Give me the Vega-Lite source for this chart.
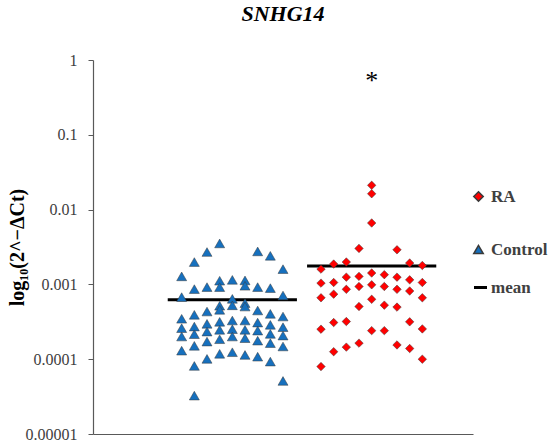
{
  "$schema": "https://vega.github.io/schema/vega-lite/v6.json",
  "width": 380,
  "height": 374,
  "autosize": {"type": "none"},
  "padding": {"left": 93, "top": 60, "right": 77, "bottom": 12},
  "title": {
    "text": "SNHG14",
    "font": "Liberation Serif",
    "fontSize": 22,
    "fontStyle": "italic",
    "fontWeight": "bold",
    "color": "black",
    "anchor": "middle",
    "frame": "group",
    "baseline": "alphabetic",
    "offset": 9
  },
  "datasets": {
    "points": [
      {"group": "Control", "pos": 7, "value": 0.00128},
      {"group": "Control", "pos": 7, "value": 0.000676},
      {"group": "Control", "pos": 7, "value": 0.000347},
      {"group": "Control", "pos": 7, "value": 0.00026},
      {"group": "Control", "pos": 7, "value": 0.000201},
      {"group": "Control", "pos": 7, "value": 0.00013},
      {"group": "Control", "pos": 8, "value": 0.00199},
      {"group": "Control", "pos": 8, "value": 0.000865},
      {"group": "Control", "pos": 8, "value": 0.000392},
      {"group": "Control", "pos": 8, "value": 0.000273},
      {"group": "Control", "pos": 8, "value": 0.000216},
      {"group": "Control", "pos": 8, "value": 0.000151},
      {"group": "Control", "pos": 8, "value": 0.0000813},
      {"group": "Control", "pos": 8, "value": 0.0000326},
      {"group": "Control", "pos": 9, "value": 0.00271},
      {"group": "Control", "pos": 9, "value": 0.00092},
      {"group": "Control", "pos": 9, "value": 0.000434},
      {"group": "Control", "pos": 9, "value": 0.000297},
      {"group": "Control", "pos": 9, "value": 0.000234},
      {"group": "Control", "pos": 9, "value": 0.000172},
      {"group": "Control", "pos": 9, "value": 0.000101},
      {"group": "Control", "pos": 10, "value": 0.00353},
      {"group": "Control", "pos": 10, "value": 0.00112},
      {"group": "Control", "pos": 10, "value": 0.00092},
      {"group": "Control", "pos": 10, "value": 0.000518},
      {"group": "Control", "pos": 10, "value": 0.000457},
      {"group": "Control", "pos": 10, "value": 0.000316},
      {"group": "Control", "pos": 10, "value": 0.000247},
      {"group": "Control", "pos": 10, "value": 0.000185},
      {"group": "Control", "pos": 10, "value": 0.000118},
      {"group": "Control", "pos": 11, "value": 0.00115},
      {"group": "Control", "pos": 11, "value": 0.000641},
      {"group": "Control", "pos": 11, "value": 0.000525},
      {"group": "Control", "pos": 11, "value": 0.000329},
      {"group": "Control", "pos": 11, "value": 0.000252},
      {"group": "Control", "pos": 11, "value": 0.000201},
      {"group": "Control", "pos": 11, "value": 0.000124},
      {"group": "Control", "pos": 12, "value": 0.00113},
      {"group": "Control", "pos": 12, "value": 0.000958},
      {"group": "Control", "pos": 12, "value": 0.000562},
      {"group": "Control", "pos": 12, "value": 0.000506},
      {"group": "Control", "pos": 12, "value": 0.000329},
      {"group": "Control", "pos": 12, "value": 0.000247},
      {"group": "Control", "pos": 12, "value": 0.000191},
      {"group": "Control", "pos": 12, "value": 0.000114},
      {"group": "Control", "pos": 13, "value": 0.00276},
      {"group": "Control", "pos": 13, "value": 0.00092},
      {"group": "Control", "pos": 13, "value": 0.000448},
      {"group": "Control", "pos": 13, "value": 0.000309},
      {"group": "Control", "pos": 13, "value": 0.000241},
      {"group": "Control", "pos": 13, "value": 0.000177},
      {"group": "Control", "pos": 13, "value": 0.000108},
      {"group": "Control", "pos": 14, "value": 0.00241},
      {"group": "Control", "pos": 14, "value": 0.000892},
      {"group": "Control", "pos": 14, "value": 0.000404},
      {"group": "Control", "pos": 14, "value": 0.000288},
      {"group": "Control", "pos": 14, "value": 0.000218},
      {"group": "Control", "pos": 14, "value": 0.000164},
      {"group": "Control", "pos": 14, "value": 0.0000929},
      {"group": "Control", "pos": 15, "value": 0.0016},
      {"group": "Control", "pos": 15, "value": 0.00071},
      {"group": "Control", "pos": 15, "value": 0.000372},
      {"group": "Control", "pos": 15, "value": 0.000268},
      {"group": "Control", "pos": 15, "value": 0.000207},
      {"group": "Control", "pos": 15, "value": 0.000148},
      {"group": "Control", "pos": 15, "value": 0.0000512},
      {"group": "RA", "pos": 18, "value": 0.0016},
      {"group": "RA", "pos": 18, "value": 0.00104},
      {"group": "RA", "pos": 18, "value": 0.000662},
      {"group": "RA", "pos": 18, "value": 0.000252},
      {"group": "RA", "pos": 18, "value": 0.0000796},
      {"group": "RA", "pos": 19, "value": 0.00187},
      {"group": "RA", "pos": 19, "value": 0.00106},
      {"group": "RA", "pos": 19, "value": 0.000741},
      {"group": "RA", "pos": 19, "value": 0.000309},
      {"group": "RA", "pos": 19, "value": 0.000126},
      {"group": "RA", "pos": 20, "value": 0.00199},
      {"group": "RA", "pos": 20, "value": 0.00125},
      {"group": "RA", "pos": 20, "value": 0.000859},
      {"group": "RA", "pos": 20, "value": 0.000319},
      {"group": "RA", "pos": 20, "value": 0.000145},
      {"group": "RA", "pos": 21, "value": 0.00303},
      {"group": "RA", "pos": 21, "value": 0.00128},
      {"group": "RA", "pos": 21, "value": 0.000937},
      {"group": "RA", "pos": 21, "value": 0.000506},
      {"group": "RA", "pos": 21, "value": 0.000164},
      {"group": "RA", "pos": 22, "value": 0.0211},
      {"group": "RA", "pos": 22, "value": 0.0163},
      {"group": "RA", "pos": 22, "value": 0.00662},
      {"group": "RA", "pos": 22, "value": 0.00142},
      {"group": "RA", "pos": 22, "value": 0.000988},
      {"group": "RA", "pos": 22, "value": 0.000632},
      {"group": "RA", "pos": 22, "value": 0.000241},
      {"group": "RA", "pos": 23, "value": 0.00135},
      {"group": "RA", "pos": 23, "value": 0.000937},
      {"group": "RA", "pos": 23, "value": 0.000528},
      {"group": "RA", "pos": 23, "value": 0.000241},
      {"group": "RA", "pos": 24, "value": 0.0029},
      {"group": "RA", "pos": 24, "value": 0.00125},
      {"group": "RA", "pos": 24, "value": 0.000859},
      {"group": "RA", "pos": 24, "value": 0.000497},
      {"group": "RA", "pos": 24, "value": 0.000155},
      {"group": "RA", "pos": 25, "value": 0.00193},
      {"group": "RA", "pos": 25, "value": 0.00115},
      {"group": "RA", "pos": 25, "value": 0.000816},
      {"group": "RA", "pos": 25, "value": 0.000316},
      {"group": "RA", "pos": 25, "value": 0.000139},
      {"group": "RA", "pos": 26, "value": 0.00179},
      {"group": "RA", "pos": 26, "value": 0.00106},
      {"group": "RA", "pos": 26, "value": 0.000662},
      {"group": "RA", "pos": 26, "value": 0.000254},
      {"group": "RA", "pos": 26, "value": 0.0001}
    ],
    "means": [
      {"group": "Control", "label": "mean", "start": 5.9, "end": 16.1, "mean": 0.000622},
      {"group": "RA", "label": "mean", "start": 16.9, "end": 27.1, "mean": 0.00176}
    ],
    "marks": [
      {"pos": 22, "value": 0.62, "label": "*"}
    ]
  },
  "layer": [
    {
      "data": {"name": "means"},
      "mark": {"type": "rule", "color": "black", "strokeWidth": 3},
      "encoding": {
        "x": {
          "field": "start", "type": "quantitative",
          "scale": {"domain": [0, 30], "nice": false, "zero": false},
          "axis": {"title": null, "labels": false, "ticks": false, "grid": false, "domainColor": "#595959", "domainWidth": 1.2}
        },
        "x2": {"field": "end"},
        "y": {
          "field": "mean", "type": "quantitative",
          "scale": {"type": "log", "domain": [0.00001, 1], "nice": false},
          "axis": {
            "title": "log₁₀(2^−ΔCt)",
            "values": [0.00001, 0.0001, 0.001, 0.01, 0.1, 1],
            "format": ".5~f",
            "grid": false,
            "domainColor": "#595959",
            "domainWidth": 1.2,
            "tickColor": "#595959",
            "tickSize": 5,
            "labelPadding": 11,
            "labelFont": "Liberation Serif",
            "labelFontSize": 16,
            "labelColor": "#404040",
            "titleFont": "Liberation Serif",
            "titleFontSize": 20,
            "titleFontWeight": "bold",
            "titleColor": "black",
            "titleX": -76,
            "titleY": 187,
            "titleAngle": -90,
            "titleBaseline": "middle",
            "titleAlign": "center"
          }
        },
        "opacity": {
          "field": "label", "type": "nominal",
          "scale": {"domain": ["mean"], "range": [1]},
          "legend": {
            "title": null,
            "orient": "none",
            "legendX": 379,
            "legendY": 219,
            "padding": 0,
            "labelFont": "Liberation Serif",
            "labelFontSize": 17,
            "labelFontWeight": "bold",
            "labelColor": "#404040",
            "labelOffset": 2,
            "symbolType": "stroke",
            "symbolSize": 170,
            "symbolStrokeColor": "black",
            "symbolStrokeWidth": 3
          }
        }
      }
    },
    {
      "data": {"name": "points"},
      "mark": {"type": "point", "filled": true, "opacity": 1, "stroke": "#3a3a3a", "strokeWidth": 0.5},
      "encoding": {
        "x": {"field": "pos", "type": "quantitative"},
        "y": {"field": "value", "type": "quantitative"},
        "color": {
          "field": "group", "type": "nominal",
          "scale": {"domain": ["RA", "Control"], "range": ["#ff0000", "#1670be"]},
          "legend": {
            "title": null,
            "orient": "none",
            "legendX": 377,
            "legendY": 128,
            "padding": 0,
            "labelFont": "Liberation Serif",
            "labelFontSize": 17,
            "labelFontWeight": "bold",
            "labelColor": "#404040",
            "labelOffset": 4,
            "rowPadding": 35,
            "symbolSize": 90
          }
        },
        "shape": {
          "field": "group", "type": "nominal",
          "scale": {"domain": ["RA", "Control"], "range": ["diamond", "triangle-up"]}
        },
        "size": {"condition": {"test": "datum.group === 'RA'", "value": 72}, "value": 100}
      }
    },
    {
      "data": {"name": "marks"},
      "mark": {"type": "text", "font": "Liberation Serif", "fontSize": 26, "color": "black", "baseline": "middle", "dy": 5},
      "encoding": {
        "x": {"field": "pos", "type": "quantitative"},
        "y": {"field": "value", "type": "quantitative"},
        "text": {"field": "label"}
      }
    }
  ],
  "config": {
    "view": {"stroke": null},
    "axis": {"grid": false, "labelFont": "Liberation Serif", "titleFont": "Liberation Serif"},
    "legend": {"labelFont": "Liberation Serif"}
  }
}
